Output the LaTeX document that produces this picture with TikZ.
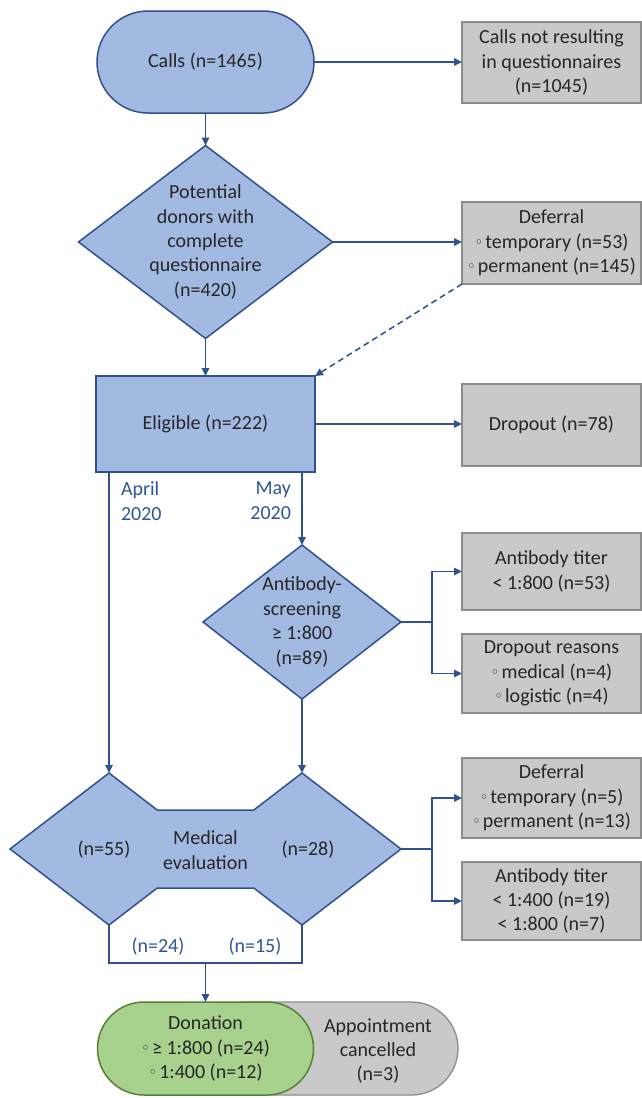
\documentclass[tikz,border=0pt]{standalone}
\usepackage{fontspec}
\setmainfont{Carlito}
\newfontfamily\symf{DejaVu Sans}
\usetikzlibrary{shapes.geometric,shapes.misc,arrows.meta}
\definecolor{bfill}{HTML}{A2B9E2}
\definecolor{bline}{HTML}{2F528F}
\definecolor{gfill}{HTML}{C9C9C9}
\definecolor{gline}{HTML}{8C8C8C}
\definecolor{grfill}{HTML}{A9D18E}
\definecolor{grline}{HTML}{548235}
\definecolor{txtc}{HTML}{262626}
\definecolor{monc}{HTML}{2F5597}
\newcommand{\wb}{{\symf\fontsize{15pt}{15pt}\selectfont\raisebox{1pt}{◦}}\hspace{2pt}}
\tikzset{
  base/.style={font=\fontsize{20pt}{24.4pt}\selectfont, text=txtc, align=center, inner sep=0pt, outer sep=0pt},
  bluebox/.style={base, draw=bline, fill=bfill, line width=1.5pt},
  graybox/.style={base, rectangle, draw=gline, fill=gfill, line width=1.3pt, minimum width=179pt},
  conn/.style={draw=bline, line width=1.5pt, -{Triangle[length=8pt,width=7.5pt]}},
  plain/.style={draw=bline, line width=1.5pt},
  month/.style={base, text=monc}
}
\begin{document}
\begin{tikzpicture}[x=1pt,y=-1pt]
\useasboundingbox (0,0) rectangle (642,1098);
% top
\node[bluebox, rounded rectangle, minimum width=217pt, minimum height=102pt] (calls) at (205.5,62) {Calls (n=1465)};
\node[graybox, minimum height=81pt] (notres) at (551.5,62.5) {Calls not resulting\\in questionnaires\\(n=1045)};
\node[bluebox, diamond, minimum width=254pt, minimum height=193pt] (pot) at (205.5,242) {};
\node[base] (pott) at (pot.center) {Potential\\donors with\\complete\\questionnaire\\(n=420)};
\node[graybox, minimum height=82pt] (def1) at (551.5,243) {Deferral\\\wb temporary (n=53)\\\wb permanent (n=145)};
\node[bluebox, rectangle, minimum width=219pt, minimum height=96pt] (elig) at (205.5,424) {Eligible (n=222)};
\node[graybox, minimum height=82pt] (drop) at (551.5,425) {Dropout (n=78)};
\node[month, align=left, anchor=north west] (apr) at (121,482) {April\\2020};
\node[month, align=right, anchor=north east] (may) at (291,482) {May\\2020};
% antibody screening
\node[bluebox, diamond, minimum width=198pt, minimum height=154pt] (ab) at (302,622) {};
\node[base] (abt) at (ab.center) {Antibody-\\screening\\≥ 1:800\\(n=89)};
\node[graybox, minimum height=77pt] (abt1) at (551.5,571.5) {Antibody titer\\< 1:800 (n=53)};
\node[graybox, minimum height=79pt] (dres) at (551.5,673.5) {Dropout reasons\\\wb medical (n=4)\\\wb logistic (n=4)};
% medical evaluation
\coordinate (medLtop) at (109,773);
\coordinate (medRtop) at (302,773);
\coordinate (medRtip) at (401,849);
\coordinate (medLtip) at (10,849);
\coordinate (medLbot) at (109,925);
\coordinate (medRbot) at (302,925);
\draw[bline, fill=bfill, line width=1.5pt, line join=miter]
  (medLtop) -- (157.2,810) -- (253.8,810) -- (medRtop) -- (medRtip) -- (medRbot)
  -- (253.8,888) -- (157.2,888) -- (medLbot) -- (medLtip) -- cycle;
\node[base] (n55) at (104,850) {(n=55)};
\node[base] (medt) at (205.5,850) {Medical\\evaluation};
\node[base] (n28) at (308,850) {(n=28)};
\node[graybox, minimum height=80pt] (def2) at (551.5,798) {Deferral\\\wb temporary (n=5)\\\wb permanent (n=13)};
\node[graybox, minimum height=78pt] (abt2) at (551.5,901) {Antibody titer\\< 1:400 (n=19)\\< 1:800 (n=7)};
\node[month] (n24) at (158,947) {(n=24)};
\node[month] (n15) at (255,947) {(n=15)};
% bottom
\node[base, rounded rectangle, draw=gline, fill=gfill, line width=1.3pt, minimum width=258pt, minimum height=93pt] (appt) at (329,1048.5) {};
\node[base] (apptt) at (378,1051) {Appointment\\cancelled\\(n=3)};
\node[base, rounded rectangle, draw=grline, fill=grfill, line width=1.5pt, minimum width=216pt, minimum height=93pt] (don) at (205.5,1048.5) {Donation\\\wb ≥ 1:800 (n=24)\\\wb 1:400 (n=12)};
\coordinate (mergeL) at (109,963);
\coordinate (mergeR) at (302,963);
% connectors
\draw[conn] (calls.east) -- (calls.east -| notres.west);
\draw[conn] (calls.south) -- (pot.north);
\draw[conn] (pot.east) -- (pot.east -| def1.west);
\draw[conn, dashed, dash pattern=on 6pt off 4pt] (def1.south west) -- (elig.north east);
\draw[conn] (pot.south) -- (elig.north);
\draw[conn] (elig.east) -- (elig.east -| drop.west);
\draw[conn] (elig.south -| medLtop) -- (medLtop);
\draw[conn] (elig.south -| ab.north) -- (ab.north);
\coordinate (br1) at (432,622);
\draw[plain] (ab.east) -- (br1);
\draw[conn] (br1) |- (abt1.west);
\draw[conn] (br1) |- (dres.west);
\draw[conn] (ab.south) -- (medRtop);
\coordinate (br2) at (432,849);
\draw[plain] (medRtip) -- (br2);
\draw[conn] (br2) |- (def2.west);
\draw[conn] (br2) |- (abt2.west);
\draw[plain] (medLbot) -- (mergeL) -- (mergeR) -- (medRbot);
\draw[conn] (mergeL -| don.north) -- (don.north);
\end{tikzpicture}
\end{document}
